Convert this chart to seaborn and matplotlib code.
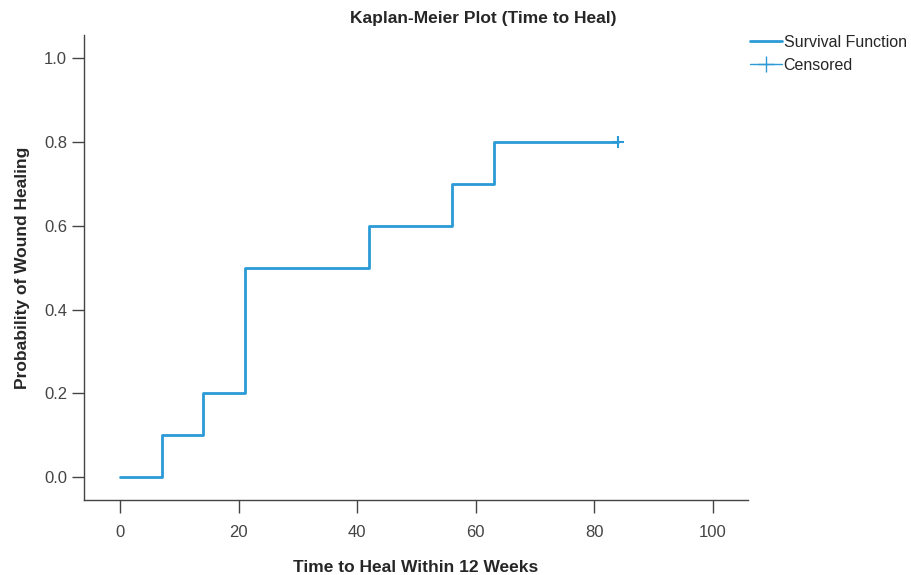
import matplotlib
matplotlib.use("Agg")
import matplotlib.pyplot as plt
import seaborn as sns
import pandas as pd
from matplotlib.lines import Line2D

# Kaplan-Meier step data
time_days = [0, 7, 14, 21, 42, 56, 63, 84]
prob_healed = [0.0, 0.1, 0.2, 0.5, 0.6, 0.7, 0.8, 0.8]
censored_time = [84]
censored_prob = [0.8]

x_ticks = [0, 20, 40, 60, 80, 100]
y_ticks = [0.0, 0.2, 0.4, 0.6, 0.8, 1.0]

line_color = "#2b9ad6"

sns.set_style("white")
plt.rcParams['font.family'] = ['Liberation Sans', 'DejaVu Sans']

km_df = pd.DataFrame({"time": time_days, "prob": prob_healed})

fig = plt.figure(figsize=(9.12, 5.75), dpi=100)
ax = fig.add_axes([0.092, 0.130, 0.728, 0.809])

sns.lineplot(data=km_df, x="time", y="prob", ax=ax, color=line_color,
             linewidth=2, drawstyle="steps-post", estimator=None)
ax.plot(censored_time, censored_prob, marker="+", color=line_color,
        markersize=8, markeredgewidth=1.5, linestyle="none")

ax.set_xlim(-6.1, 105.9)
ax.set_ylim(-0.055, 1.055)
ax.set_xticks(x_ticks)
ax.set_yticks(y_ticks)
ax.set_xticklabels([str(t) for t in x_ticks])
ax.set_yticklabels([f"{t:.1f}" for t in y_ticks])
ax.tick_params(axis="both", direction="out", length=9, width=1, colors="#444444",
               labelsize=12, labelcolor="#444444", bottom=True, left=True)
ax.tick_params(axis="x", pad=9)
ax.tick_params(axis="y", pad=3)

sns.despine(ax=ax)
for side in ["left", "bottom"]:
    ax.spines[side].set_color("#444444")
    ax.spines[side].set_linewidth(1)

ax.set_xlabel("Time to Heal Within 12 Weeks", fontsize=12.5, fontweight="bold", labelpad=14)
ax.set_ylabel("Probability of Wound Healing", fontsize=12.5, fontweight="bold", labelpad=10)

fig.text(483 / 912, 1 - 18 / 575, "Kaplan-Meier Plot (Time to Heal)", ha="center", va="center",
         fontsize=12.5, fontweight="bold")

handles = [
    Line2D([0], [0], color=line_color, linewidth=2, drawstyle="steps-post"),
    Line2D([0], [0], color=line_color, linewidth=1, marker="+", markersize=12),
]
fig.legend(handles, ["Survival Function", "Censored"], loc="upper left",
           bbox_to_anchor=(750 / 912, 1 - 35 / 575), frameon=False, fontsize=11.5,
           handlelength=2.0, handletextpad=0.1, labelspacing=0.5, borderaxespad=0,
           borderpad=0)

fig.savefig("out.png", dpi=100)
